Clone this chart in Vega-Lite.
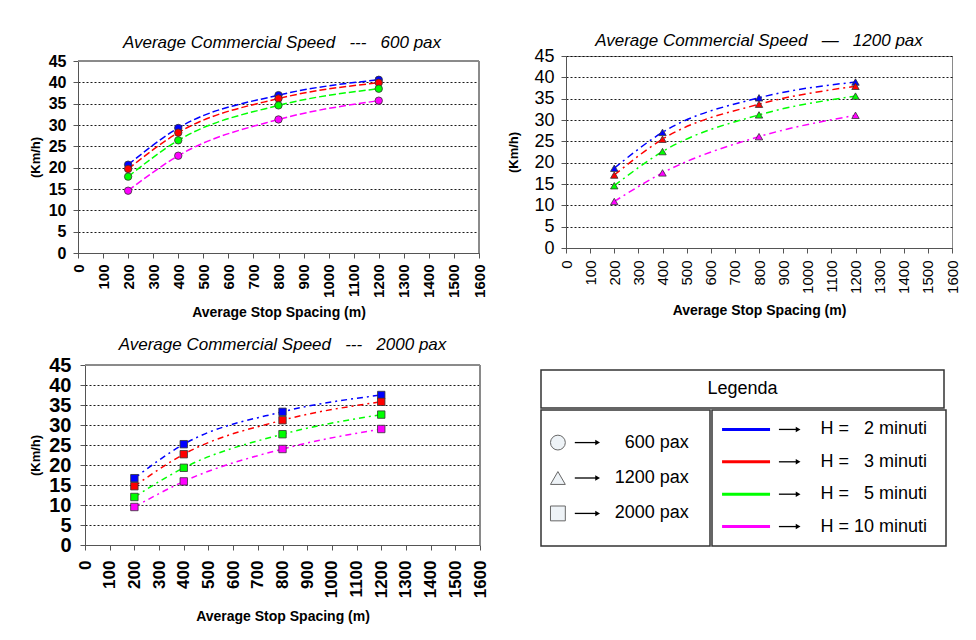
{
  "$schema": "https://vega.github.io/schema/vega-lite/v6.json",
  "background": "white",
  "padding": {"left": 29, "top": 31, "right": 0, "bottom": 0},
  "autosize": {"type": "pad"},
  "config": {
    "font": "Liberation Sans",
    "view": {"stroke": "#8a8a8a", "strokeWidth": 1},
    "axis": {"domainColor": "#555", "tickColor": "#555", "tickSize": 5, "labelColor": "#000", "titleColor": "#000", "labelFont": "Liberation Sans", "titleFont": "Liberation Sans"},
    "axisX": {"grid": false, "labelAngle": 270, "labelOverlap": false, "labelFlush": false, "titleFontWeight": "bold", "titleFontSize": 14, "format": "d"},
    "axisY": {"grid": true, "gridColor": "#000", "gridDash": [2, 2], "gridOpacity": 0.9, "titleFontWeight": "bold", "titleFontSize": 13, "labelOverlap": false, "labelFlush": false, "format": "d"},
    "title": {"font": "Liberation Sans", "fontStyle": "italic", "fontWeight": "normal", "fontSize": 17, "color": "#000", "anchor": "middle"}
  },
  "datasets": {
    "speed": [
      {"pax": 600, "H": 2, "spacing": 200, "speed": 20.7},
      {"pax": 600, "H": 2, "spacing": 400, "speed": 29.3},
      {"pax": 600, "H": 2, "spacing": 800, "speed": 37.0},
      {"pax": 600, "H": 2, "spacing": 1200, "speed": 40.6},
      {"pax": 600, "H": 3, "spacing": 200, "speed": 19.7},
      {"pax": 600, "H": 3, "spacing": 400, "speed": 28.2},
      {"pax": 600, "H": 3, "spacing": 800, "speed": 36.2},
      {"pax": 600, "H": 3, "spacing": 1200, "speed": 39.9},
      {"pax": 600, "H": 5, "spacing": 200, "speed": 17.9},
      {"pax": 600, "H": 5, "spacing": 400, "speed": 26.4},
      {"pax": 600, "H": 5, "spacing": 800, "speed": 34.6},
      {"pax": 600, "H": 5, "spacing": 1200, "speed": 38.5},
      {"pax": 600, "H": 10, "spacing": 200, "speed": 14.6},
      {"pax": 600, "H": 10, "spacing": 400, "speed": 22.8},
      {"pax": 600, "H": 10, "spacing": 800, "speed": 31.3},
      {"pax": 600, "H": 10, "spacing": 1200, "speed": 35.7},
      {"pax": 1200, "H": 2, "spacing": 200, "speed": 18.7},
      {"pax": 1200, "H": 2, "spacing": 400, "speed": 27.1},
      {"pax": 1200, "H": 2, "spacing": 800, "speed": 35.2},
      {"pax": 1200, "H": 2, "spacing": 1200, "speed": 38.9},
      {"pax": 1200, "H": 3, "spacing": 200, "speed": 17.1},
      {"pax": 1200, "H": 3, "spacing": 400, "speed": 25.5},
      {"pax": 1200, "H": 3, "spacing": 800, "speed": 33.7},
      {"pax": 1200, "H": 3, "spacing": 1200, "speed": 37.9},
      {"pax": 1200, "H": 5, "spacing": 200, "speed": 14.6},
      {"pax": 1200, "H": 5, "spacing": 400, "speed": 22.6},
      {"pax": 1200, "H": 5, "spacing": 800, "speed": 31.2},
      {"pax": 1200, "H": 5, "spacing": 1200, "speed": 35.6},
      {"pax": 1200, "H": 10, "spacing": 200, "speed": 10.9},
      {"pax": 1200, "H": 10, "spacing": 400, "speed": 17.6},
      {"pax": 1200, "H": 10, "spacing": 800, "speed": 26.1},
      {"pax": 1200, "H": 10, "spacing": 1200, "speed": 31.1},
      {"pax": 2000, "H": 2, "spacing": 200, "speed": 16.7},
      {"pax": 2000, "H": 2, "spacing": 400, "speed": 25.2},
      {"pax": 2000, "H": 2, "spacing": 800, "speed": 33.3},
      {"pax": 2000, "H": 2, "spacing": 1200, "speed": 37.5},
      {"pax": 2000, "H": 3, "spacing": 200, "speed": 14.7},
      {"pax": 2000, "H": 3, "spacing": 400, "speed": 22.7},
      {"pax": 2000, "H": 3, "spacing": 800, "speed": 31.2},
      {"pax": 2000, "H": 3, "spacing": 1200, "speed": 35.8},
      {"pax": 2000, "H": 5, "spacing": 200, "speed": 12.0},
      {"pax": 2000, "H": 5, "spacing": 400, "speed": 19.3},
      {"pax": 2000, "H": 5, "spacing": 800, "speed": 27.7},
      {"pax": 2000, "H": 5, "spacing": 1200, "speed": 32.6},
      {"pax": 2000, "H": 10, "spacing": 200, "speed": 9.5},
      {"pax": 2000, "H": 10, "spacing": 400, "speed": 15.9},
      {"pax": 2000, "H": 10, "spacing": 800, "speed": 24.0},
      {"pax": 2000, "H": 10, "spacing": 1200, "speed": 29.0}
    ],
    "paxLegend": [
      {"pax": 600, "label": "600 pax"},
      {"pax": 1200, "label": "1200 pax"},
      {"pax": 2000, "label": "2000 pax"}
    ],
    "hLegend": [
      {"H": 2, "label": "H =\u00a0\u00a0\u00a02 minuti"},
      {"H": 3, "label": "H =\u00a0\u00a0\u00a03 minuti"},
      {"H": 5, "label": "H =\u00a0\u00a0\u00a05 minuti"},
      {"H": 10, "label": "H = 10 minuti"}
    ]
  },
  "concat": [
    {
      "concat": [
        {
          "width": 394, "height": 197,
          "view": {"stroke": null},
          "title": {"text": "Average Commercial Speed\u00a0\u00a0\u00a0---\u00a0\u00a0\u00a0600 pax", "offset": 1},
          "data": {"name": "speed"},
          "transform": [{"filter": "datum.pax == 600"}],
          "encoding": {
            "x": {"field": "spacing", "type": "quantitative", "scale": {"domain": [0, 1600], "nice": false, "range": [-7, 394]},
              "axis": {"values": [0,100,200,300,400,500,600,700,800,900,1000,1100,1200,1300,1400,1500,1600], "title": "Average Stop Spacing (m)", "labelFontSize": 15, "labelFontWeight": "bold", "labelPadding": 6, "titlePadding": 8}},
            "y": {"field": "speed", "type": "quantitative", "scale": {"domain": [0, 45], "nice": false, "range": [197, 5]},
              "axis": {"values": [0,5,10,15,20,25,30,35,40,45], "title": "(Km/h)", "offset": 7, "labelFontSize": 16, "labelFontWeight": "bold", "labelPadding": 7, "titlePadding": 6}},
            "color": {"field": "H", "type": "nominal", "scale": {"domain": [2, 3, 5, 10], "range": ["#0000ff", "#ff0000", "#00ff00", "#ff00ff"]}, "legend": null}
          },
          "layer": [
            {"mark": {"type": "rule", "color": "#8a8a8a", "strokeWidth": 1},
             "encoding": {"x": {"datum": 0, "type": "quantitative"}, "x2": {"datum": 1600}, "y": {"datum": 45, "type": "quantitative"}, "color": {"value": "#8a8a8a"}}},
            {"mark": {"type": "rule", "color": "#8a8a8a", "strokeWidth": 1},
             "encoding": {"x": {"datum": 1600, "type": "quantitative"}, "y": {"datum": 0, "type": "quantitative"}, "y2": {"datum": 45}, "color": {"value": "#8a8a8a"}}},
            {"mark": {"type": "line", "interpolate": "monotone", "strokeDash": [7, 3], "strokeWidth": 1.5}},
            {"mark": {"type": "point", "shape": "circle", "filled": true, "size": 55, "stroke": "#333", "strokeWidth": 0.8, "opacity": 1}}
          ]
        },
        {
          "width": 386, "height": 192,
          "title": {"text": "Average Commercial Speed\u00a0\u00a0\u00a0\u2014\u00a0\u00a0\u00a01200 pax", "offset": -3},
          "data": {"name": "speed"},
          "transform": [{"filter": "datum.pax == 1200"}],
          "encoding": {
            "x": {"field": "spacing", "type": "quantitative", "scale": {"domain": [0, 1600], "nice": false},
              "axis": {"values": [0,100,200,300,400,500,600,700,800,900,1000,1100,1200,1300,1400,1500,1600], "title": "Average Stop Spacing (m)", "labelFontSize": 15, "labelFontWeight": "normal", "labelPadding": 7, "titlePadding": 10}},
            "y": {"field": "speed", "type": "quantitative", "scale": {"domain": [0, 45], "nice": false},
              "axis": {"values": [0,5,10,15,20,25,30,35,40,45], "title": "(Km/h)", "labelFontSize": 18, "labelFontWeight": "normal", "labelPadding": 7, "titlePadding": 13}},
            "color": {"field": "H", "type": "nominal", "scale": {"domain": [2, 3, 5, 10], "range": ["#0000ff", "#ff0000", "#00ff00", "#ff00ff"]}, "legend": null}
          },
          "layer": [
            {"mark": {"type": "line", "interpolate": "monotone", "strokeDash": [7, 4, 2, 4], "strokeWidth": 1.5}},
            {"mark": {"type": "point", "shape": "triangle-up", "filled": true, "size": 55, "stroke": "#333", "strokeWidth": 0.8, "opacity": 1}}
          ]
        }
      ],
      "columns": 2,
      "align": "none",
      "spacing": 20
    },
    {
      "hconcat": [
        {
          "width": 395, "height": 175,
          "view": {"stroke": null},
          "title": {"text": "Average Commercial Speed\u00a0\u00a0\u00a0---\u00a0\u00a0\u00a02000 pax", "offset": 1},
          "data": {"name": "speed"},
          "transform": [{"filter": "datum.pax == 2000"}],
          "encoding": {
            "x": {"field": "spacing", "type": "quantitative", "scale": {"domain": [0, 1600], "nice": false},
              "axis": {"values": [0,100,200,300,400,500,600,700,800,900,1000,1100,1200,1300,1400,1500,1600], "title": "Average Stop Spacing (m)", "labelFontSize": 17, "labelFontWeight": "bold", "labelPadding": 10, "titlePadding": 12}},
            "y": {"field": "speed", "type": "quantitative", "scale": {"domain": [0, 45], "nice": false, "range": [175, -5]},
              "axis": {"values": [0,5,10,15,20,25,30,35,40,45], "title": "(Km/h)", "labelFontSize": 20, "labelFontWeight": "bold", "labelPadding": 9, "titlePadding": 6}},
            "color": {"field": "H", "type": "nominal", "scale": {"domain": [2, 3, 5, 10], "range": ["#0000ff", "#ff0000", "#00ff00", "#ff00ff"]}, "legend": null}
          },
          "layer": [
            {"mark": {"type": "rule", "color": "#8a8a8a", "strokeWidth": 1},
             "encoding": {"x": {"datum": 0, "type": "quantitative"}, "x2": {"datum": 1600}, "y": {"datum": 45, "type": "quantitative"}, "color": {"value": "#8a8a8a"}}},
            {"mark": {"type": "rule", "color": "#8a8a8a", "strokeWidth": 1},
             "encoding": {"x": {"datum": 1600, "type": "quantitative"}, "y": {"datum": 0, "type": "quantitative"}, "y2": {"datum": 45}, "color": {"value": "#8a8a8a"}}},
            {"mark": {"type": "line", "interpolate": "monotone", "strokeDash": [6, 4, 2, 4], "strokeWidth": 1.5}},
            {"mark": {"type": "point", "shape": "square", "filled": true, "size": 55, "stroke": "#333", "strokeWidth": 0.8, "opacity": 1}}
          ]
        },
        {
          "vconcat": [
            {
              "width": 403, "height": 38,
              "view": {"stroke": "#333", "strokeWidth": 1.5},
              "data": {"values": [{"t": "Legenda"}]},
              "mark": {"type": "text", "fontSize": 18, "font": "Liberation Sans", "color": "#000"},
              "encoding": {"text": {"field": "t", "type": "nominal"}}
            },
            {
              "hconcat": [
                {
                  "width": 169, "height": 136,
                  "view": {"stroke": "#333", "strokeWidth": 1.5},
                  "data": {"name": "paxLegend"},
                  "encoding": {"y": {"field": "pax", "type": "nominal", "scale": {"type": "point", "domain": [600, 1200, 2000], "padding": 0.92}, "axis": null}},
                  "layer": [
                    {"mark": {"type": "point", "filled": true, "fill": "#eef3f7", "stroke": "#666", "strokeWidth": 1, "size": 220, "opacity": 1},
                     "encoding": {"x": {"datum": 1.0, "type": "quantitative", "scale": {"domain": [0, 10]}, "axis": null},
                       "shape": {"field": "pax", "type": "nominal", "scale": {"domain": [600, 1200, 2000], "range": ["circle", "triangle-up", "square"]}, "legend": null}}},
                    {"mark": {"type": "rule", "color": "#000", "strokeWidth": 1.3},
                     "encoding": {"x": {"datum": 2.0, "type": "quantitative", "scale": {"domain": [0, 10]}, "axis": null}, "x2": {"datum": 3.3}}},
                    {"mark": {"type": "point", "shape": "triangle-right", "filled": true, "color": "#000", "size": 30, "opacity": 1},
                     "encoding": {"x": {"datum": 3.35, "type": "quantitative", "scale": {"domain": [0, 10]}, "axis": null}}},
                    {"mark": {"type": "text", "align": "right", "fontSize": 18, "color": "#000"},
                     "encoding": {"x": {"datum": 8.75, "type": "quantitative", "scale": {"domain": [0, 10]}, "axis": null}, "text": {"field": "label", "type": "nominal"}}}
                  ]
                },
                {
                  "width": 234, "height": 136,
                  "view": {"stroke": "#333", "strokeWidth": 1.5},
                  "data": {"name": "hLegend"},
                  "encoding": {"y": {"field": "H", "type": "nominal", "scale": {"type": "point", "domain": [2, 3, 5, 10], "padding": 0.6}, "axis": null}},
                  "layer": [
                    {"mark": {"type": "rule", "strokeWidth": 3},
                     "encoding": {"x": {"datum": 0.43, "type": "quantitative", "scale": {"domain": [0, 10]}, "axis": null}, "x2": {"datum": 2.48},
                       "color": {"field": "H", "type": "nominal", "scale": {"domain": [2, 3, 5, 10], "range": ["#0000ff", "#ff0000", "#00ff00", "#ff00ff"]}, "legend": null}}},
                    {"mark": {"type": "rule", "color": "#000", "strokeWidth": 1.3},
                     "encoding": {"x": {"datum": 2.86, "type": "quantitative", "scale": {"domain": [0, 10]}, "axis": null}, "x2": {"datum": 3.6}}},
                    {"mark": {"type": "point", "shape": "triangle-right", "filled": true, "color": "#000", "size": 30, "opacity": 1},
                     "encoding": {"x": {"datum": 3.68, "type": "quantitative", "scale": {"domain": [0, 10]}, "axis": null}}},
                    {"mark": {"type": "text", "align": "right", "fontSize": 18, "color": "#000"},
                     "encoding": {"x": {"datum": 9.19, "type": "quantitative", "scale": {"domain": [0, 10]}, "axis": null}, "text": {"field": "label", "type": "nominal"}}}
                  ]
                }
              ],
              "spacing": 0
            }
          ],
          "spacing": 0
        }
      ],
      "spacing": 52
    }
  ],
  "columns": 1,
  "align": "none",
  "spacing": 16
}
